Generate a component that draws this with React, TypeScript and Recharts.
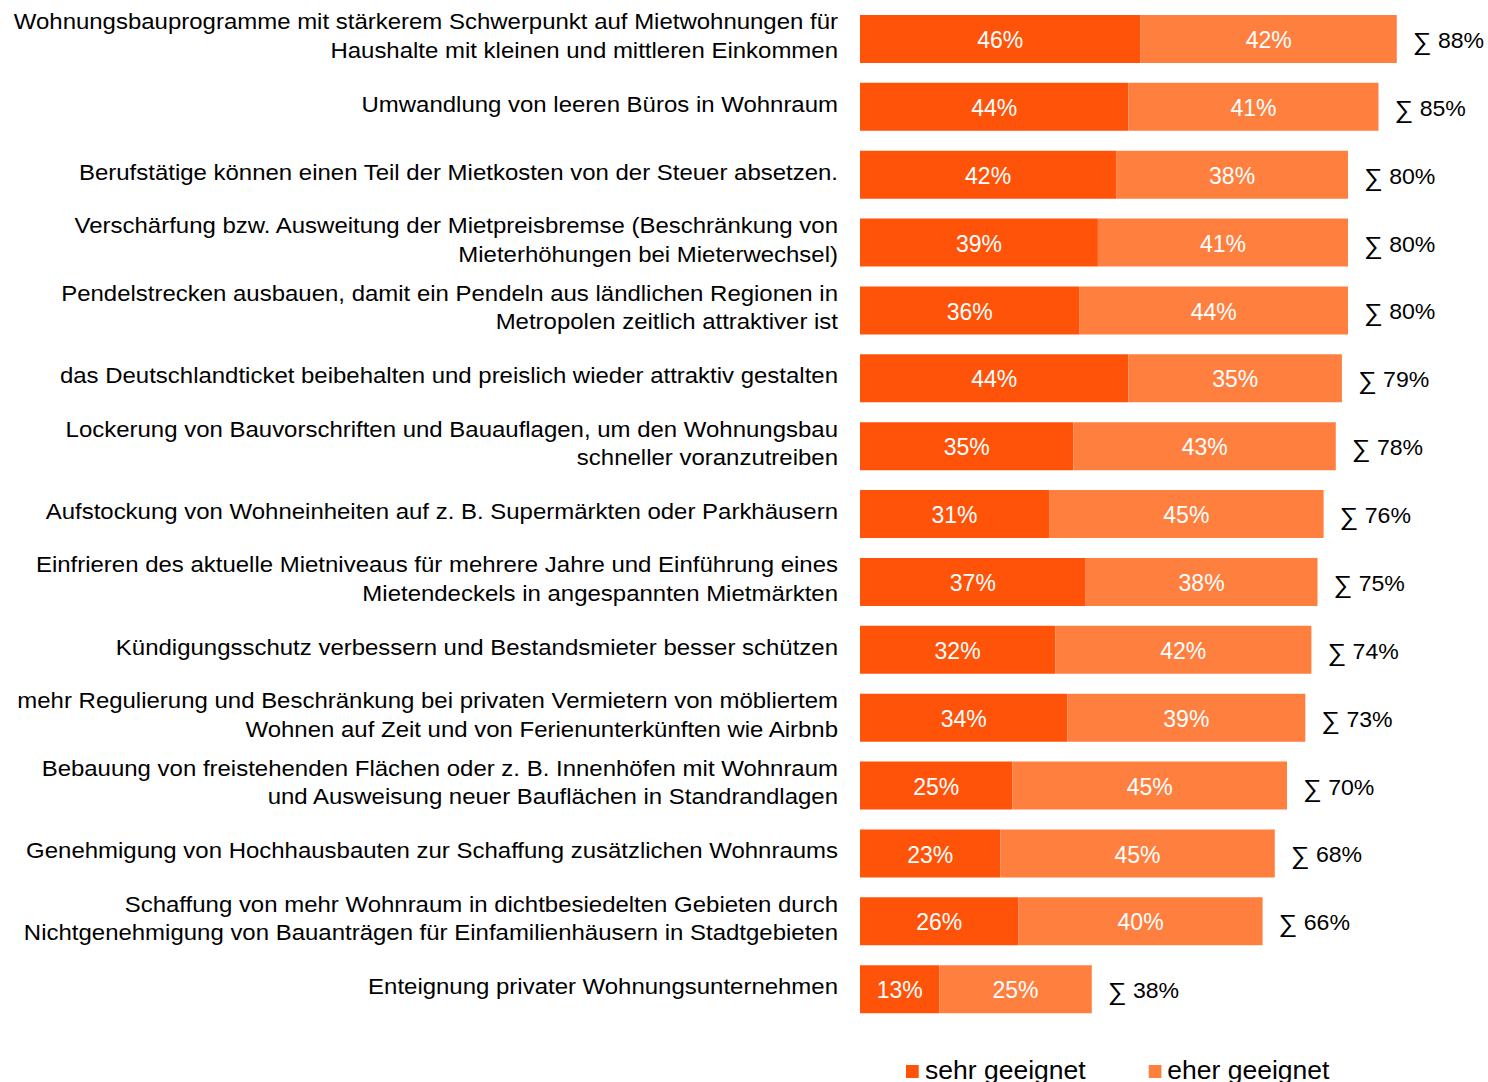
import { BarChart, Bar, XAxis, YAxis, LabelList, Legend } from 'recharts';

const categories = [
  'Wohnungsbauprogramme mit stärkerem Schwerpunkt auf Mietwohnungen für\nHaushalte mit kleinen und mittleren Einkommen',
  'Umwandlung von leeren Büros in Wohnraum',
  'Berufstätige können einen Teil der Mietkosten von der Steuer absetzen.',
  'Verschärfung bzw. Ausweitung der Mietpreisbremse (Beschränkung von\nMieterhöhungen bei Mieterwechsel)',
  'Pendelstrecken ausbauen, damit ein Pendeln aus ländlichen Regionen in\nMetropolen zeitlich attraktiver ist',
  'das Deutschlandticket beibehalten und preislich wieder attraktiv gestalten',
  'Lockerung von Bauvorschriften und Bauauflagen, um den Wohnungsbau\nschneller voranzutreiben',
  'Aufstockung von Wohneinheiten auf z. B. Supermärkten oder Parkhäusern',
  'Einfrieren des aktuelle Mietniveaus für mehrere Jahre und Einführung eines\nMietendeckels in angespannten Mietmärkten',
  'Kündigungsschutz verbessern und Bestandsmieter besser schützen',
  'mehr Regulierung und Beschränkung bei privaten Vermietern von möbliertem\nWohnen auf Zeit und von Ferienunterkünften wie Airbnb',
  'Bebauung von freistehenden Flächen oder z. B. Innenhöfen mit Wohnraum\nund Ausweisung neuer Bauflächen in Standrandlagen',
  'Genehmigung von Hochhausbauten zur Schaffung zusätzlichen Wohnraums',
  'Schaffung von mehr Wohnraum in dichtbesiedelten Gebieten durch\nNichtgenehmigung von Bauanträgen für Einfamilienhäusern in Stadtgebieten',
  'Enteignung privater Wohnungsunternehmen',
];

const sehrGeeignet = [46, 44, 42, 39, 36, 44, 35, 31, 37, 32, 34, 25, 23, 26, 13];
const eherGeeignet = [42, 41, 38, 41, 44, 35, 43, 45, 38, 42, 39, 45, 45, 40, 25];
const totals = [88, 85, 80, 80, 80, 79, 78, 76, 75, 74, 73, 70, 68, 66, 38];

const seriesNames = ['sehr geeignet', 'eher geeignet'];
const colors = ['#FF530A', '#FF7F3F'];

const data = categories.map((name, i) => ({
  name,
  sehr: sehrGeeignet[i],
  eher: eherGeeignet[i],
  total: totals[i],
}));

const FONT = '"Liberation Sans", Arial, sans-serif';
// the source picture is a little wider than tall, so text is stretched a bit
const STRETCH = 1.09;

function CategoryTick(props: any) {
  const { x, y, payload } = props;
  const lines: string[] = String(payload.value).split('\n');
  const offsets = lines.length === 1 ? [5] : [-9.5, 19];
  return (
    <g>
      {lines.map((line, i) => (
        <text
          key={i}
          transform={`translate(${x} ${y + offsets[i]}) scale(${STRETCH} 1)`}
          textAnchor="end"
          fill="#000"
          fontSize={22}
          fontFamily={FONT}
        >
          {line}
        </text>
      ))}
    </g>
  );
}

function TotalLabel(props: any) {
  const { x, y, width, height, index } = props;
  return (
    <text
      transform={`translate(${x + width + 16} ${y + height / 2 + 9}) scale(1.05 1)`}
      fill="#000"
      fontSize={22}
      fontFamily={FONT}
    >
      <tspan fontSize={25} dy={2}>∑</tspan>
      <tspan dy={-2}>{' ' + data[index].total + '%'}</tspan>
    </text>
  );
}

function LegendContent() {
  return (
    <div style={{ display: 'flex', fontFamily: FONT, fontSize: 25, color: '#000', lineHeight: '30px', transform: 'scaleX(1.06)', transformOrigin: 'left' }}>
      {seriesNames.map((n, i) => (
        <div key={n} style={{ display: 'flex', alignItems: 'center', marginRight: i === 0 ? 59 : 0 }}>
          <span style={{ width: 12, height: 13, background: colors[i], display: 'inline-block', marginRight: 6, marginTop: 2 }} />
          <span>{n}</span>
        </div>
      ))}
    </div>
  );
}

export default function App() {
  return (
    <div style={{ position: 'absolute', left: 0, top: 0, width: 1488, height: 1082, background: '#fff' }}>
      <BarChart
        width={1488}
        height={1082}
        data={data}
        layout="vertical"
        margin={{ top: 5, right: 18, bottom: 59, left: 0 }}
      >
        <XAxis type="number" domain={[0, 100]} hide />
        <YAxis
          type="category"
          dataKey="name"
          width={860}
          axisLine={false}
          tickLine={false}
          tickSize={0}
          tickMargin={22}
          interval={0}
          tick={<CategoryTick />}
        />
        <Legend
          layout="horizontal"
          verticalAlign="middle"
          align="center"
          content={<LegendContent />}
          wrapperStyle={{ left: 906, top: 1055, width: 560 }}
        />
        <Bar dataKey="sehr" name={seriesNames[0]} stackId="a" fill={colors[0]} barSize={48} isAnimationActive={false}>
          <LabelList dataKey="sehr" position="center" fill="#fff" fontSize={23} fontFamily={FONT} dy={1} formatter={(v: any) => v + '%'} />
        </Bar>
        <Bar dataKey="eher" name={seriesNames[1]} stackId="a" fill={colors[1]} barSize={48} isAnimationActive={false}>
          <LabelList dataKey="eher" position="center" fill="#fff" fontSize={23} fontFamily={FONT} dy={1} formatter={(v: any) => v + '%'} />
          <LabelList dataKey="total" content={<TotalLabel />} />
        </Bar>
      </BarChart>
    </div>
  );
}
